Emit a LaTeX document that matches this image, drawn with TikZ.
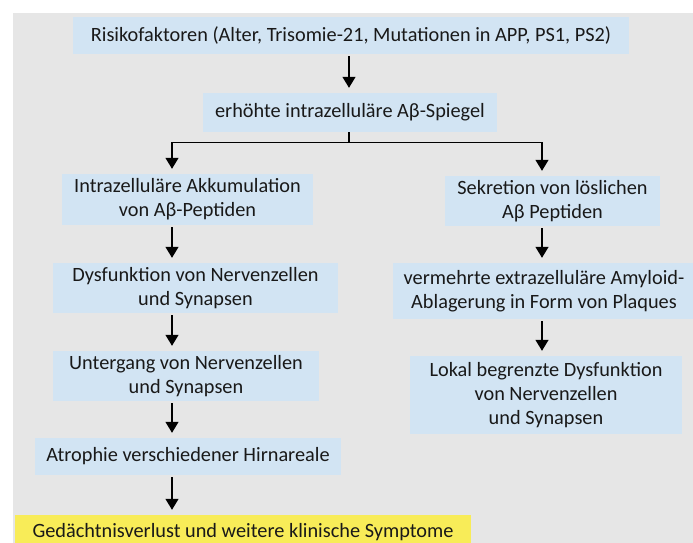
\documentclass[tikz,border=0pt]{standalone}
\usepackage{fontspec}
\setmainfont{Carlito}
\usetikzlibrary{arrows.meta}
\definecolor{bggrey}{RGB}{230,230,230}
\definecolor{boxblue}{RGB}{210,228,243}
\definecolor{boxyellow}{RGB}{248,236,88}
\definecolor{txt}{RGB}{25,25,25}
\tikzset{
  box/.style={fill=boxblue, inner sep=0pt, align=center, text=txt,
    font=\fontsize{20.3}{24}\selectfont},
  finalbox/.style={box, fill=boxyellow},
  arr/.style={draw=black, line width=1.3pt, -{Triangle[width=13pt,length=11pt]},
    shorten <=2pt, shorten >=5pt},
  branch/.style={draw=black, line width=1.3pt}
}
\begin{document}
\begin{tikzpicture}[x=1pt,y=-1pt]
\useasboundingbox (0,0) rectangle (693,543);
\clip (0,0) rectangle (693,543);
\fill[bggrey] (13,13) rectangle (693,543);
% nodes
\node[box, minimum width=556pt, minimum height=37pt] (b1) at (351,35.5)
  {Risikofaktoren (Alter, Trisomie-21, Mutationen in APP, PS1, PS2)};
\node[box, minimum width=294pt, minimum height=39pt] (b2) at (350,112.5)
  {erhöhte intrazelluläre Aβ-Spiegel};
\node[box, minimum width=251pt, minimum height=51pt] (l1) at (187.5,199.5)
  {Intrazelluläre Akkumulation\\von Aβ-Peptiden};
\node[box, minimum width=285pt, minimum height=50pt] (l2) at (195.5,288)
  {Dysfunktion von Nervenzellen\\und Synapsen};
\node[box, minimum width=266pt, minimum height=50pt] (l3) at (186,376)
  {Untergang von Nervenzellen\\und Synapsen};
\node[box, minimum width=306pt, minimum height=37pt] (l4) at (188,456.5)
  {Atrophie verschiedener Hirnareale};
\node[finalbox, minimum width=456pt, minimum height=34pt] (l5) at (243,532)
  {\raisebox{2pt}{Gedächtnisverlust und weitere klinische Symptome}};
\node[box, minimum width=215pt, minimum height=50pt] (r1) at (552.5,201)
  {Sekretion von löslichen\\Aβ Peptiden};
\node[box, minimum width=302pt, minimum height=56pt] (r2) at (544,291)
  {vermehrte extrazelluläre Amyloid-\\Ablagerung in Form von Plaques};
\node[box, minimum width=272pt, minimum height=78pt] (r3) at (546,395)
  {Lokal begrenzte Dysfunktion\\von Nervenzellen\\und Synapsen};
% guide coordinates for arrow columns
\coordinate (lx) at (172,0);
\coordinate (rx) at (542,0);
\coordinate (mx) at (349,0);
% connectors
\draw[arr] (b1.south -| mx) -- (b2.north -| mx);
\draw[branch] (b2.south -| mx) -- ++(0,10) coordinate (split);
\draw[arr, shorten <=0pt] (split) -| (l1.north -| lx);
\draw[arr, shorten <=0pt] (split) -| (r1.north -| rx);
\draw[arr] (l1.south -| lx) -- (l2.north -| lx);
\draw[arr] (l2.south -| lx) -- (l3.north -| lx);
\draw[arr] (l3.south -| lx) -- (l4.north -| lx);
\draw[arr] (l4.south -| lx) -- (l5.north -| lx);
\draw[arr] (r1.south -| rx) -- (r2.north -| rx);
\draw[arr] (r2.south -| rx) -- (r3.north -| rx);
\end{tikzpicture}
\end{document}
